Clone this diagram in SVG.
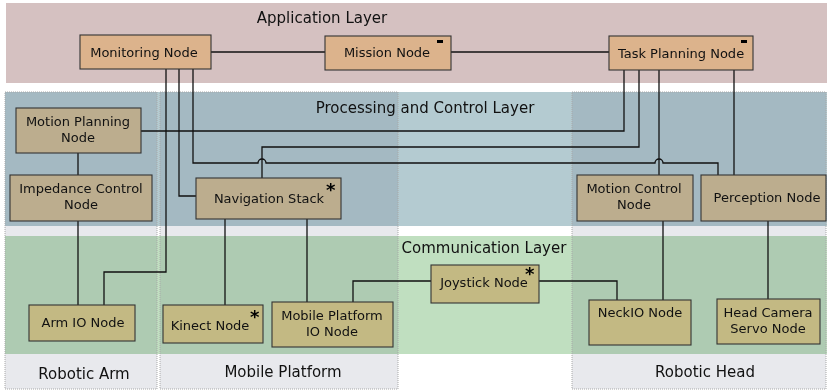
<svg xmlns="http://www.w3.org/2000/svg" width="827" height="390" viewBox="0 0 827 390">
<style>
text{font-family:"DejaVu Sans","Liberation Sans",sans-serif;fill:#111}
.lt{font-size:15px;text-anchor:middle}
.nt{font-size:13px;text-anchor:middle}
.ast{font-size:18px;font-weight:bold;fill:#000}
.app{fill:#dcb38c;stroke:#333;stroke-width:1.1}
.proc{fill:#bcad8e;stroke:#333;stroke-width:1.1}
.comm{fill:#c3b983;stroke:#333;stroke-width:1.1}
.col{fill:#e8e9ed;mix-blend-mode:multiply}
.colb{fill:none;stroke:#a8a8a8;stroke-width:1;stroke-dasharray:1,1}
.ln{fill:none;stroke:#111;stroke-width:1.3}
</style>
<rect width="827" height="390" fill="#ffffff"/>
<g id="layers">
<rect x="6" y="3" width="821" height="80" fill="#d5c1c1"/>
<rect x="5" y="92" width="822" height="134" fill="#b4cbd1"/>
<rect x="5" y="236" width="822" height="118" fill="#c0dfc0"/>
<text class="lt" x="322" y="23">Application Layer</text>
<text class="lt" x="425" y="113">Processing and Control Layer</text>
<text class="lt" x="484" y="253">Communication Layer</text>
</g>
<g id="columns">
<rect class="col" x="5" y="92" width="152" height="297"/>
<rect class="col" x="160" y="92" width="238" height="297"/>
<rect class="col" x="572" y="92" width="254" height="297"/>
<rect class="colb" x="5" y="92" width="152" height="297"/>
<rect class="colb" x="160" y="92" width="238" height="297"/>
<rect class="colb" x="572" y="92" width="254" height="297"/>
<text class="lt" x="84" y="379">Robotic Arm</text>
<text class="lt" x="283" y="377">Mobile Platform</text>
<text class="lt" x="705" y="377">Robotic Head</text>
</g>
<g id="connectors">
<path class="ln" d="M211,52 H325"/>
<path class="ln" d="M451,52 H609"/>
<path class="ln" d="M166,69 V272 H104 V305"/>
<path class="ln" d="M179,69 V196 H196"/>
<path class="ln" d="M193,69 V163 H258 A4,4 0 0 1 266,163 H655 A4,4 0 0 1 663,163 H718 V175"/>
<path class="ln" d="M624,70 V131 H141"/>
<path class="ln" d="M639,70 V147 H262 V178"/>
<path class="ln" d="M659,70 V175"/>
<path class="ln" d="M734,70 V175"/>
<path class="ln" d="M78,153 V175"/>
<path class="ln" d="M78,221 V305"/>
<path class="ln" d="M225,219 V305"/>
<path class="ln" d="M307,219 V302"/>
<path class="ln" d="M353,302 V281 H431"/>
<path class="ln" d="M539,281 H617 V300"/>
<path class="ln" d="M663,221 V300"/>
<path class="ln" d="M768,221 V299"/>
</g>
<g id="monitoring-node">
<rect class="app" x="80" y="35" width="131" height="34"/>
<text class="nt" x="144" y="57">Monitoring Node</text>
</g>
<g id="mission-node">
<rect class="app" x="325" y="36" width="126" height="34"/>
<text class="nt" x="387" y="57">Mission Node</text>
<rect x="437" y="40" width="6" height="3" fill="#000"/>
</g>
<g id="task-planning-node">
<rect class="app" x="609" y="36" width="144" height="34"/>
<text class="nt" x="681" y="58">Task Planning Node</text>
<rect x="741" y="40" width="6" height="3" fill="#000"/>
</g>
<g id="motion-planning-node">
<rect class="proc" x="16" y="108" width="125" height="45"/>
<text class="nt" x="78" y="126">Motion Planning</text>
<text class="nt" x="78" y="142">Node</text>
</g>
<g id="impedance-control-node">
<rect class="proc" x="10" y="175" width="142" height="46"/>
<text class="nt" x="81" y="193">Impedance Control</text>
<text class="nt" x="81" y="209">Node</text>
</g>
<g id="navigation-stack">
<rect class="proc" x="196" y="178" width="145" height="41"/>
<text class="nt" x="269" y="203">Navigation Stack</text>
<text class="ast" x="326" y="196">*</text>
</g>
<g id="motion-control-node">
<rect class="proc" x="577" y="175" width="116" height="46"/>
<text class="nt" x="634" y="193">Motion Control</text>
<text class="nt" x="634" y="209">Node</text>
</g>
<g id="perception-node">
<rect class="proc" x="701" y="175" width="125" height="46"/>
<text class="nt" x="767" y="202">Perception Node</text>
</g>
<g id="arm-io-node">
<rect class="comm" x="29" y="305" width="106" height="36"/>
<text class="nt" x="83" y="327">Arm IO Node</text>
</g>
<g id="kinect-node">
<rect class="comm" x="163" y="305" width="100" height="38"/>
<text class="nt" x="210" y="330">Kinect Node</text>
<text class="ast" x="250" y="323">*</text>
</g>
<g id="mobile-platform-io-node">
<rect class="comm" x="272" y="302" width="121" height="45"/>
<text class="nt" x="332" y="320">Mobile Platform</text>
<text class="nt" x="332" y="336">IO Node</text>
</g>
<g id="joystick-node">
<rect class="comm" x="431" y="265" width="108" height="38"/>
<text class="nt" x="484" y="287">Joystick Node</text>
<text class="ast" x="525" y="280">*</text>
</g>
<g id="necko-node">
<rect class="comm" x="589" y="300" width="102" height="45"/>
<text class="nt" x="640" y="317">NeckIO Node</text>
</g>
<g id="head-camera-servo-node">
<rect class="comm" x="717" y="299" width="103" height="45"/>
<text class="nt" x="768" y="317">Head Camera</text>
<text class="nt" x="768" y="333">Servo Node</text>
</g>
</svg>
